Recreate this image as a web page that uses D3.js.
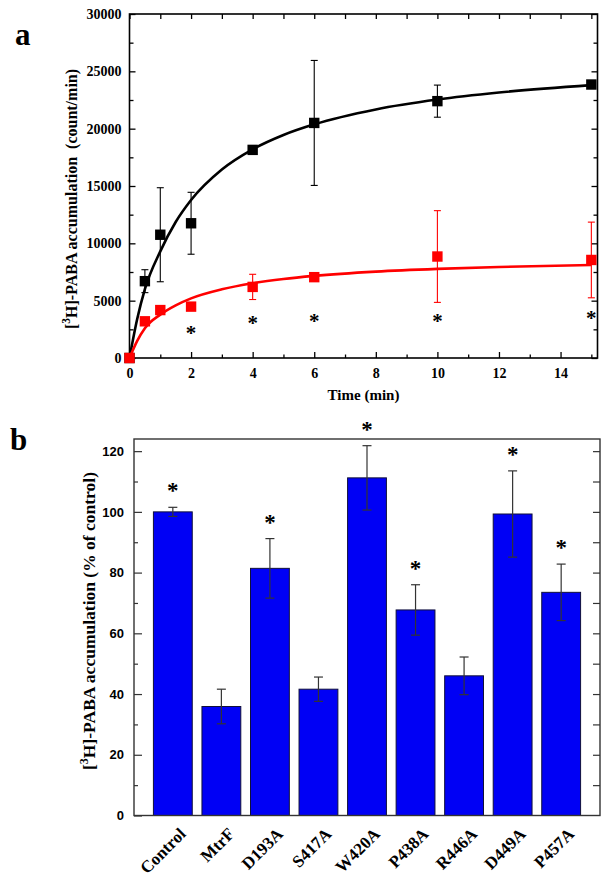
<!DOCTYPE html>
<html>
<head>
<meta charset="utf-8">
<script src="https://cdn.jsdelivr.net/npm/d3@7"></script>
<style>
  body { margin: 0; background: #fff; }
  svg { display: block; }
</style>
</head>
<body>
<div id="chart"></div>
<script>
'use strict';

// ---- panel a : time course ----
var timeA = [0, 0.5, 1, 2, 4, 6, 10, 15];
var wildType = [0, 6700, 10750, 11750, 18150, 20500, 22400, 23850];
var wildTypeErr = [0, 1000, 4100, 2700, 200, 5450, 1400, 200];
var mutant = [0, 3200, 4180, 4480, 6200, 7050, 8850, 8550];
var mutantErr = [0, 200, 200, 200, 1100, 200, 4000, 3300];

// fitted curves
var fitTime = [0, 0.25, 0.5, 1, 1.5, 2, 3, 4, 5, 6, 8, 10, 12, 15];
var wildTypeFit = [0, 3400, 6000, 9300, 11860, 13780, 16440, 18200, 19450, 20380, 21680, 22540, 23150, 23800];
var mutantFit = [0, 1500, 2600, 3780, 4590, 5200, 5990, 6520, 6890, 7160, 7530, 7770, 7940, 8110];

var starTimes = [2, 4, 6, 10, 15];
var starLevels = [2450, 3300, 3480, 3480, 3750];

// ---- panel b : mutants ----
var mutants = ["Control", "MtrF", "D193A", "S417A", "W420A", "P438A", "R446A", "D449A", "P457A"];
var uptake = [100, 35.9, 81.4, 41.6, 111.2, 67.7, 46.0, 99.3, 73.5];
var uptakeErr = [1.5, 5.7, 9.8, 4.0, 10.6, 8.3, 6.2, 14.2, 9.3];
var significant = [true, false, true, false, true, true, false, true, true];

var serif = "'Liberation Serif', 'Times New Roman', serif";
var sans = "'Liberation Sans', Arial, sans-serif";

var svg = d3.select("#chart").append("svg")
    .attr("width", 610)
    .attr("height", 881);

// =================== panel a ===================
var xA = d3.scaleLinear().domain([0, 15.2]).range([129.5, 597.5]);
var yA = d3.scaleLinear().domain([0, 30000]).range([358, 14]);

var gA = svg.append("g");

function styleAxis(sel, font, size) {
  sel.select(".domain").remove();
  sel.selectAll(".tick line").attr("stroke", "#000").attr("stroke-width", 1.3);
  sel.selectAll(".tick text")
      .attr("font-family", font)
      .attr("font-weight", "bold")
      .attr("font-size", size)
      .attr("fill", "#000");
}

var majorX = d3.range(0, 15, 2);
var minorX = d3.range(1, 16, 2);
var majorY = d3.range(0, 30001, 5000);
var minorY = d3.range(2500, 30000, 5000);

// bottom
gA.append("g").attr("transform", "translate(0,358)")
    .call(d3.axisBottom(xA).tickValues(majorX).tickSize(-6).tickPadding(10).tickFormat(d3.format("d")))
    .call(styleAxis, serif, 14);
gA.append("g").attr("transform", "translate(0,358)")
    .call(d3.axisBottom(xA).tickValues(minorX).tickSize(-3.5).tickFormat(""))
    .call(styleAxis, serif, 14);
// top
gA.append("g").attr("transform", "translate(0,14)")
    .call(d3.axisTop(xA).tickValues(majorX.concat(minorX)).tickSize(-5).tickFormat(""))
    .call(styleAxis, serif, 14);
// left
gA.append("g").attr("transform", "translate(129.5,0)")
    .call(d3.axisLeft(yA).tickValues(majorY).tickSize(-6).tickPadding(8).tickFormat(d3.format("d")))
    .call(styleAxis, serif, 14);
gA.append("g").attr("transform", "translate(129.5,0)")
    .call(d3.axisLeft(yA).tickValues(minorY).tickSize(-4).tickFormat(""))
    .call(styleAxis, serif, 14);
// right
gA.append("g").attr("transform", "translate(597.5,0)")
    .call(d3.axisRight(yA).tickValues(majorY).tickSize(-6).tickFormat(""))
    .call(styleAxis, serif, 14);
gA.append("g").attr("transform", "translate(597.5,0)")
    .call(d3.axisRight(yA).tickValues(minorY).tickSize(-4).tickFormat(""))
    .call(styleAxis, serif, 14);

gA.append("rect")
    .attr("x", 129.5).attr("y", 14)
    .attr("width", 597.5 - 129.5).attr("height", 358 - 14)
    .attr("fill", "none").attr("stroke", "#000").attr("stroke-width", 1.6);

var fitLine = d3.line()
    .x(function(d) { return xA(d[0]); })
    .y(function(d) { return yA(d[1]); })
    .curve(d3.curveMonotoneX);

var seriesA = [
  {color: "#000", values: wildType, err: wildTypeErr, fit: wildTypeFit},
  {color: "#ff0000", values: mutant, err: mutantErr, fit: mutantFit}
];

seriesA.forEach(function(s) {
  gA.append("path")
      .datum(fitTime.map(function(t, i) { return [t, s.fit[i]]; }))
      .attr("fill", "none")
      .attr("stroke", s.color)
      .attr("stroke-width", 2.6)
      .attr("d", fitLine);

  var pts = timeA.map(function(t, i) { return {t: t, v: s.values[i], e: s.err[i]}; });
  var eb = gA.append("g").attr("stroke", s.color).attr("stroke-width", 1.1);
  pts.filter(function(d) { return d.e > 0; }).forEach(function(d) {
    var cx = xA(d.t);
    eb.append("line").attr("x1", cx).attr("x2", cx)
        .attr("y1", yA(d.v - d.e)).attr("y2", yA(d.v + d.e));
    [d.v - d.e, d.v + d.e].forEach(function(v) {
      eb.append("line").attr("x1", cx - 3.5).attr("x2", cx + 3.5)
          .attr("y1", yA(v)).attr("y2", yA(v));
    });
  });

  gA.selectAll(null).data(pts).enter().append("rect")
      .attr("x", function(d) { return xA(d.t) - 5.2; })
      .attr("y", function(d) { return yA(d.v) - 5.2; })
      .attr("width", 10.4).attr("height", 10.4)
      .attr("fill", s.color);
});

gA.selectAll(".starA").data(starTimes).enter().append("text")
    .attr("x", function(d) { return xA(d); })
    .attr("y", function(d, i) { return yA(starLevels[i]) + 10; })
    .attr("text-anchor", "middle")
    .attr("font-family", serif)
    .attr("font-weight", "bold")
    .attr("font-size", 21)
    .text("*");

gA.append("text")
    .attr("x", 363.5).attr("y", 400)
    .attr("text-anchor", "middle")
    .attr("font-family", serif).attr("font-weight", "bold").attr("font-size", 15)
    .text("Time (min)");

var yLabA = gA.append("text")
    .attr("transform", "translate(77,199) rotate(-90)")
    .attr("text-anchor", "middle")
    .attr("font-family", serif).attr("font-weight", "bold").attr("font-size", 16);
yLabA.append("tspan").text("[");
yLabA.append("tspan").attr("font-size", 11.5).attr("dy", -7).text("3");
yLabA.append("tspan").attr("dy", 7).text("H]-PABA accumulation\u00a0\u00a0(count/min)");

svg.append("text")
    .attr("x", 15).attr("y", 45)
    .attr("font-family", serif).attr("font-weight", "bold").attr("font-size", 31)
    .text("a");

// =================== panel b ===================
var xB = d3.scaleBand().domain(mutants).range([134, 600]).paddingInner(0.2).paddingOuter(0.4);
var yB = d3.scaleLinear().domain([0, 124]).range([815.5, 439]);

var gB = svg.append("g");

gB.append("g").attr("transform", "translate(134,0)")
    .call(d3.axisLeft(yB).tickValues(d3.range(0, 121, 20)).tickSize(-8).tickPadding(10))
    .call(styleAxis, sans, 13);
gB.append("g").attr("transform", "translate(134,0)")
    .call(d3.axisLeft(yB).tickValues(d3.range(10, 121, 20)).tickSize(-4).tickFormat(""))
    .call(styleAxis, sans, 13);
gB.append("g").attr("transform", "translate(600,0)")
    .call(d3.axisRight(yB).tickValues(d3.range(10, 121, 10)).tickSize(-7).tickFormat(""))
    .call(styleAxis, sans, 13);
gB.selectAll(".tick line").attr("stroke", "#333").attr("stroke-width", 1.2);

gB.selectAll(".bar").data(mutants).enter().append("rect")
    .attr("x", function(d) { return xB(d); })
    .attr("y", function(d, i) { return yB(uptake[i]); })
    .attr("width", xB.bandwidth())
    .attr("height", function(d, i) { return yB(0) - yB(uptake[i]); })
    .attr("fill", "#0000f5")
    .attr("stroke", "#10103a")
    .attr("stroke-width", 1);

var ebB = gB.append("g").attr("stroke", "#333").attr("stroke-width", 1.2);
mutants.forEach(function(m, i) {
  var cx = xB(m) + xB.bandwidth() / 2;
  var lo = yB(uptake[i] - uptakeErr[i]), hi = yB(uptake[i] + uptakeErr[i]);
  ebB.append("line").attr("x1", cx).attr("x2", cx).attr("y1", lo).attr("y2", hi);
  [lo, hi].forEach(function(y) {
    ebB.append("line").attr("x1", cx - 4.5).attr("x2", cx + 4.5).attr("y1", y).attr("y2", y);
  });
});

gB.selectAll(".starB").data(mutants.filter(function(m, i) { return significant[i]; }))
  .enter().append("text")
    .attr("x", function(d) { return xB(d) + xB.bandwidth() / 2; })
    .attr("y", function(d) {
      var i = mutants.indexOf(d);
      return yB(uptake[i] + uptakeErr[i]) - 9;
    })
    .attr("text-anchor", "middle")
    .attr("font-family", serif)
    .attr("font-weight", "bold")
    .attr("font-size", 23)
    .text("*");

gB.append("rect")
    .attr("x", 134).attr("y", 439)
    .attr("width", 600 - 134).attr("height", 815.5 - 439)
    .attr("fill", "none").attr("stroke", "#333").attr("stroke-width", 1.4);

gB.selectAll(".cat").data(mutants).enter().append("text")
    .attr("transform", function(d) {
      return "translate(" + (xB(d) + xB.bandwidth() / 2 + 14) + ",835) rotate(-45)";
    })
    .attr("text-anchor", "end")
    .attr("font-family", serif).attr("font-weight", "bold").attr("font-size", 17)
    .text(function(d) { return d; });

var yLabB = gB.append("text")
    .attr("transform", "translate(95,621) rotate(-90)")
    .attr("text-anchor", "middle")
    .attr("font-family", serif).attr("font-weight", "bold").attr("font-size", 17.5);
yLabB.append("tspan").text("[");
yLabB.append("tspan").attr("font-size", 12).attr("dy", -7.5).text("3");
yLabB.append("tspan").attr("dy", 7.5).text("H]-PABA accumulation (% of control)");

svg.append("text")
    .attr("x", 10).attr("y", 450)
    .attr("font-family", serif).attr("font-weight", "bold").attr("font-size", 31)
    .text("b");
</script>
</body>
</html>
